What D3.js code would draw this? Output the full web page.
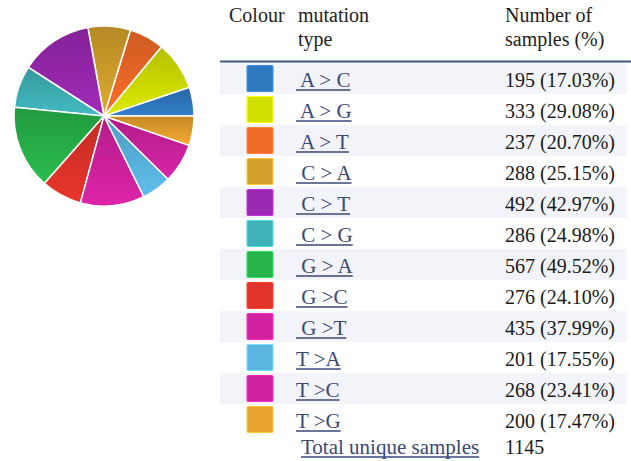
<!DOCTYPE html>
<html>
<head>
	<meta charset="utf-8">
	<title>Mutation types</title>
	<style>
		body { margin: 0; background: #fff; }
		svg { display: block; }
		text { font-family: "Liberation Serif", "DejaVu Serif", serif; font-size: 20px; }
		.lbl { fill: #3b4878; white-space: pre; font-size: 21px; }
		.num { fill: #1a1a1a; }
		.head { fill: #222; }
	</style>
	<script src="https://cdn.jsdelivr.net/npm/d3@7"></script>
</head>
<body>
	<svg id="chart" width="631" height="461"></svg>
	<script>

		// data
		var types = [" A > C", " A > G", " A > T", " C > A", " C > T", " C > G", " G > A", " G >C", " G >T", "T >A", "T >C", "T >G"];
		var counts = [195, 333, 237, 288, 492, 286, 567, 276, 435, 201, 268, 200];
		var pcts = ["17.03", "29.08", "20.70", "25.15", "42.97", "24.98", "49.52", "24.10", "37.99", "17.55", "23.41", "17.47"];
		var colours = ["#2e78c0", "#d2e000", "#f06a28", "#d4a22c", "#9a28b0", "#3fb2b8", "#28b44a", "#e0332a", "#d222a0", "#5ab6e0", "#cf22a0", "#e9a22e"];
		var totalLabel = "Total unique samples";
		var totalSamples = 1145;

		var svg = d3.select("#chart");
		var data = types.map(function(t, i) { return {type: t, count: counts[i], pct: pcts[i], colour: colours[i]}; });

		// ---- pie ----
		var cx = 104, cy = 116, radius = 90;

		// starts at 3 o'clock and runs counter-clockwise
		var pie = d3.pie()
		    .sort(null)
		    .value(function(d) { return d.count; })
		    .startAngle(Math.PI / 2)
		    .endAngle(Math.PI / 2 - 2 * Math.PI);

		var arc = d3.arc().innerRadius(0).outerRadius(radius);

		var defs = svg.append("defs");
		data.forEach(function(d, i) {
			var grad = defs.append("linearGradient")
			    .attr("id", "g" + i)
			    .attr("x1", 0).attr("y1", 0).attr("x2", 0).attr("y2", 1);
			grad.append("stop").attr("offset", "0%").attr("stop-color", d3.color(d.colour).darker(0.45));
			grad.append("stop").attr("offset", "100%").attr("stop-color", d3.color(d.colour).brighter(0.15));
		});

		svg.append("g")
		    .attr("transform", "translate(" + cx + "," + cy + ")")
		  .selectAll("path")
		  .data(pie(data))
		  .enter().append("path")
		    .attr("d", arc)
		    .attr("fill", function(d, i) { return "url(#g" + i + ")"; })
		    .attr("stroke", "#fff")
		    .attr("stroke-width", 1.5);

		// ---- table ----
		var left = 220, right = 627;
		var colSwatch = 247, colType = 296, colNum = 505;

		var y = d3.scaleBand()
		    .domain(types)
		    .range([63, 63 + types.length * 31])
		    .paddingInner(0);

		var table = svg.append("g");

		// header
		table.append("text").attr("class", "head").attr("x", 229).attr("y", 22).text("Colour");
		table.append("text").attr("class", "head").attr("x", 298).attr("y", 22).text("mutation");
		table.append("text").attr("class", "head").attr("x", 298).attr("y", 46).text("type");
		table.append("text").attr("class", "head").attr("x", colNum).attr("y", 22).text("Number of");
		table.append("text").attr("class", "head").attr("x", colNum).attr("y", 46).text("samples (%)");

		// alternate row bands
		table.selectAll("rect.band")
		  .data(data.filter(function(d, i) { return i % 2 == 0; }))
		  .enter().append("rect")
		    .attr("class", "band")
		    .attr("x", left)
		    .attr("y", function(d) { return y(d.type); })
		    .attr("width", right - left)
		    .attr("height", y.bandwidth())
		    .attr("fill", "#f2f4f9");

		table.append("line")
		    .attr("x1", left).attr("x2", 631)
		    .attr("y1", 61.5).attr("y2", 61.5)
		    .attr("stroke", "#405676")
		    .attr("stroke-width", 2);

		var rows = table.selectAll("g.row")
		  .data(data)
		  .enter().append("g")
		    .attr("class", "row")
		    .attr("transform", function(d) { return "translate(0," + y(d.type) + ")"; });

		rows.append("rect")
		    .attr("x", colSwatch)
		    .attr("y", 2.5)
		    .attr("width", 26)
		    .attr("height", 26)
		    .attr("rx", 1)
		    .attr("fill", function(d) { return d.colour; })
		    .attr("stroke", function(d) { return d3.color(d.colour).brighter(0.6); })
		    .attr("stroke-width", 1);

		rows.append("text")
		    .attr("class", "lbl")
		    .attr("x", colType)
		    .attr("y", 24)
		    .text(function(d) { return d.type; });

		rows.append("text")
		    .attr("class", "num")
		    .attr("x", colNum)
		    .attr("y", 24)
		    .text(function(d) { return d.count + " (" + d.pct + "%)"; });

		// total row
		var totalY = 63 + types.length * 31 + 19;
		table.append("text")
		    .attr("class", "lbl")
		    .attr("x", 301)
		    .attr("y", totalY)
		    .text(totalLabel);
		table.append("text")
		    .attr("class", "num")
		    .attr("x", colNum)
		    .attr("y", totalY)
		    .text(totalSamples);

		// underline the link labels
		svg.selectAll("text.lbl").each(function() {
			var t = d3.select(this);
			var w = this.getComputedTextLength();
			var x0 = +t.attr("x");
			var y0 = +t.attr("y");
			d3.select(this.parentNode).append("line")
			    .attr("x1", x0).attr("x2", x0 + w)
			    .attr("y1", y0 + 3).attr("y2", y0 + 3)
			    .attr("stroke", "#3b4878")
			    .attr("stroke-width", 1.3);
		});

	</script>
</body>
</html>
